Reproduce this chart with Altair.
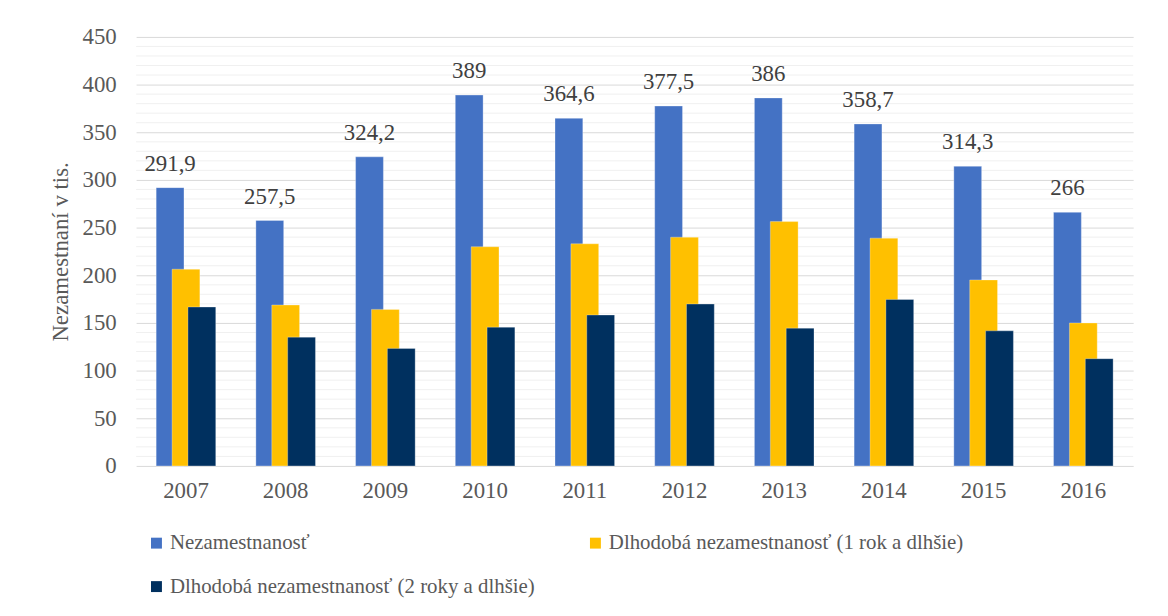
import altair as alt
import pandas as pd

years = [str(y) for y in range(2007, 2017)]
unemployment = [291.9, 257.5, 324.2, 389, 364.6, 377.5, 386, 358.7, 314.3, 266]
long_term_1 = [206.3, 168.8, 164.2, 229.9, 233.0, 239.9, 256.3, 238.9, 195.1, 150.0]
long_term_2 = [166.7, 135.1, 123.3, 145.5, 158.3, 169.8, 144.5, 174.6, 141.7, 112.5]

series_names = [
    "Nezamestnanosť",
    "Dlhodobá nezamestnanosť (1 rok a dlhšie)",
    "Dlhodobá nezamestnanosť (2 roky a dlhšie)",
]
series_colors = ["#4472C4", "#FFC000", "#00305F"]
# legend is filled column by column: this order gives rows (0, 1) and (2)
legend_order = [series_names[0], series_names[2], series_names[1]]
legend_colors = [series_colors[0], series_colors[2], series_colors[1]]
major_ticks = list(range(0, 451, 50))
minor_ticks = [v for v in range(0, 451, 10) if v % 50]

rows = []
for vals, name in zip([unemployment, long_term_1, long_term_2], series_names):
    for yr, v in zip(years, vals):
        rows.append({"year": yr, "value": v, "series": name,
                     "label": f"{v:g}".replace(".", ",")})
df = pd.DataFrame(rows)
minor_df = pd.DataFrame({"value": minor_ticks})

FONT = "Liberation Serif"
TXT = "#595959"

yscale = alt.Scale(domain=[0, 450], nice=False)
x_enc = alt.X("year:N", title=None, sort=years,
              scale=alt.Scale(paddingInner=0, paddingOuter=0),
              axis=alt.Axis(domain=False, ticks=False, tickSize=0, labelAngle=0,
                            labelFont=FONT, labelFontSize=23, labelColor=TXT,
                            labelPadding=14, grid=False))
y_enc = alt.Y("value:Q", scale=yscale,
              axis=alt.Axis(values=major_ticks, grid=True, gridColor="#d9d9d9",
                            domain=False, ticks=False, tickSize=0,
                            labelFont=FONT, labelFontSize=23, labelColor=TXT,
                            labelPadding=20,
                            title="Nezamestnaní v tis.", titleFont=FONT,
                            titleFontSize=23, titleColor=TXT, titleFontWeight="normal",
                            titleAngle=270, titleX=-69, titleY=216,
                            titleAlign="center", titleBaseline="alphabetic"))
color = alt.Color("series:N", sort=legend_order,
                  scale=alt.Scale(domain=legend_order, range=legend_colors),
                  legend=alt.Legend(title=None, orient="none", legendX=10, legendY=499,
                                    columns=2, columnPadding=50, rowPadding=22,
                                    symbolType="square", symbolSize=121,
                                    symbolStrokeWidth=0, labelFont=FONT,
                                    labelFontSize=21, labelColor=TXT, labelOffset=3,
                                    padding=0, labelLimit=0))

minor = alt.Chart(minor_df).mark_rule(color="#f0f0f0", strokeWidth=1).encode(
    y=y_enc
)

offsets = [-16, 0, 16]
bars = []
for name, off in zip(series_names, offsets):
    bars.append(
        alt.Chart(df).transform_filter(alt.datum.series == name)
        .mark_bar(width=28, xOffset=off, stroke="white", strokeWidth=0.6,
                  strokeOpacity=0.5)
        .encode(x=x_enc, y=y_enc, color=color)
    )

labels = (
    alt.Chart(df).transform_filter(alt.datum.series == series_names[0])
    .mark_text(dx=-16, dy=-17, baseline="alphabetic", align="center",
               font=FONT, fontSize=23, color="#404040")
    .encode(x=x_enc, y=y_enc, text="label:N")
)

chart = alt.layer(minor, *bars, labels).properties(
    width=1004, height=432,
    autosize=alt.AutoSizeParams(type="none"),
    padding={"left": 129, "top": 27, "right": 27, "bottom": 149},
    background="white",
).configure_view(stroke=None)

chart.save("out.html", embed_options={"renderer": "svg", "actions": False})
